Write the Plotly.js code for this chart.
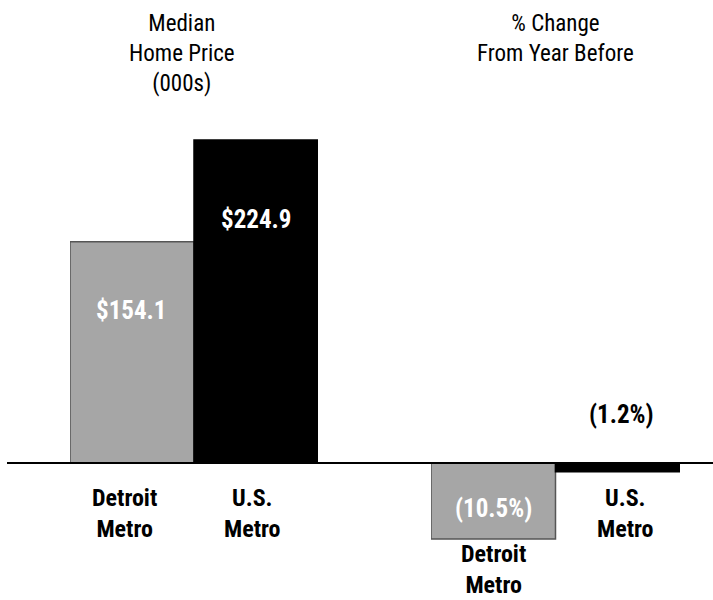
<!DOCTYPE html>
<html>
<head>
<meta charset="utf-8">
<script src="https://cdn.plot.ly/plotly-3.0.1.min.js"></script>
<style>html,body{margin:0;padding:0;background:#fff;}#chart{width:713px;height:600px;}</style>
</head>
<body>
<div id="chart"></div>
<script>
const categories = ["Detroit Metro", "U.S. Metro"];
const priceValues = [154.1, 224.9];
const changeValues = [-10.5, -1.2];
const priceLabels = ["$154.1", "$224.9"];
const changeLabels = ["(10.5%)", "(1.2%)"];
const catLabels = ["Detroit<br>Metro", "U.S.<br>Metro"];
const barColors = ["#a6a6a6", "#000000"];
const lineColors = ["#555555", "#000000"];
const panelTitles = ["Median<br>Home Price<br>(000s)", "% Change<br>From Year Before"];

const FONT = '"Roboto Condensed", Roboto, sans-serif';

const traces = [
  {type: 'bar', x: categories, y: priceValues, xaxis: 'x', yaxis: 'y',
   marker: {color: barColors, line: {color: lineColors, width: 1.5}}, hoverinfo: 'none'},
  {type: 'bar', x: categories, y: changeValues, xaxis: 'x2', yaxis: 'y2',
   marker: {color: barColors, line: {color: lineColors, width: 1.5}}, hoverinfo: 'none'}
];

const hidden = {showgrid: false, zeroline: false, showline: false, showticklabels: false, ticks: '', fixedrange: true};

const boldW = {family: FONT, size: 25, color: '#ffffff', weight: 'bold'};
const boldB = {family: FONT, size: 25, color: '#000000', weight: 'bold'};
const catFont = {family: FONT, size: 24, color: '#000000', weight: 'bold'};
const titleFont = {family: FONT, size: 23, color: '#000000'};

const annotations = [
  // panel titles
  {xref: 'x domain', yref: 'paper', x: 0.5, xshift: -12, y: 1, yanchor: 'top', yshift: -8, text: panelTitles[0], showarrow: false,
   font: titleFont, align: 'center'},
  {xref: 'x2 domain', yref: 'paper', x: 0.5, y: 1, yanchor: 'top', yshift: -8, text: panelTitles[1], showarrow: false,
   font: titleFont, align: 'center'},
  // value labels inside left bars
  {xref: 'x', yref: 'y', x: categories[0], y: priceValues[0], yanchor: 'middle', yshift: -69, xshift: -1, text: priceLabels[0], showarrow: false, font: boldW},
  {xref: 'x', yref: 'y', x: categories[1], y: priceValues[1], yanchor: 'middle', yshift: -79, text: priceLabels[1], showarrow: false, font: boldW},
  // category labels left
  {xref: 'x', yref: 'y', x: categories[0], y: 0, yanchor: 'top', yshift: -19, xshift: -8, text: catLabels[0], showarrow: false, font: catFont, align: 'center'},
  {xref: 'x', yref: 'y', x: categories[1], y: 0, yanchor: 'top', yshift: -19, xshift: -4, text: catLabels[1], showarrow: false, font: catFont, align: 'center'},
  // right panel
  {xref: 'x2', yref: 'y2', x: categories[0], y: changeValues[0] / 2, yanchor: 'middle', yshift: -7, text: changeLabels[0], showarrow: false, font: boldW},
  {xref: 'x2', yref: 'y2', x: categories[1], y: 0, yanchor: 'middle', yshift: 49, xshift: 4, text: changeLabels[1], showarrow: false, font: boldB},
  {xref: 'x2', yref: 'y2', x: categories[0], y: changeValues[0], yanchor: 'top', yshift: 1, text: catLabels[0], showarrow: false, font: catFont, align: 'center'},
  {xref: 'x2', yref: 'y2', x: categories[1], y: 0, yanchor: 'top', yshift: -19, xshift: 8, text: catLabels[1], showarrow: false, font: catFont, align: 'center'}
];

const layout = {
  width: 713, height: 600,
  margin: {l: 0, r: 0, t: 0, b: 0},
  paper_bgcolor: '#ffffff', plot_bgcolor: '#ffffff',
  showlegend: false,
  bargap: 0,
  xaxis: Object.assign({domain: [70/713, 318/713], anchor: 'y'}, hidden),
  yaxis: Object.assign({domain: [0, 1], range: [-95.4, 322.4], anchor: 'x'}, hidden),
  xaxis2: Object.assign({domain: [431/713, 680/713], anchor: 'y2'}, hidden),
  yaxis2: Object.assign({domain: [0, 1], range: [-18.92, 63.95], anchor: 'x2'}, hidden),
  shapes: [
    {type: 'line', xref: 'paper', yref: 'y', x0: 7/713, x1: 1, y0: 0, y1: 0, line: {color: '#000', width: 2}}
  ],
  annotations: annotations
};

Plotly.newPlot('chart', traces, layout, {displayModeBar: false, staticPlot: true});
</script>
</body>
</html>
